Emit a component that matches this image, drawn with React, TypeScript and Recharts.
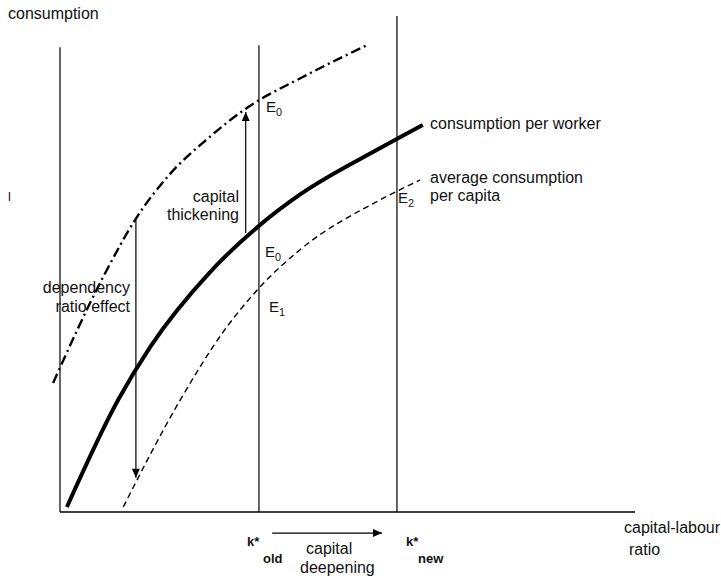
import { ComposedChart, Line, XAxis, YAxis, ReferenceLine } from 'recharts'

// capital-labour ratio (k) and consumption (c)
const workerK = [1.2, 10.1, 15.7, 26.1, 34.6, 41.7, 55.7, 63.1]
const workerC = [1.0, 22.3, 32.9, 47.8, 57.0, 63.2, 72.5, 77.1]

const capitaK = [11.0, 20.9, 28.4, 34.6, 41.7, 55.7, 62.6]
const capitaC = [1.0, 22.3, 35.9, 44.6, 52.2, 62.2, 66.1]

const upperK = [-1.2, 7.5, 13.4, 19.1, 25.6, 32.5, 42.3, 53.4]
const upperC = [25.7, 46.8, 58.8, 67.3, 74.3, 80.5, 86.7, 93.0]

// k* old / k* new and the vertical guides
const kOld = 34.6
const kNew = 58.6
const guideTops = [92.6, 93.0, 98.8]

// arrows: [k, c] start and end
const dependencyArrow = [[13.2, 58.2], [13.2, 6.8]]
const thickeningArrow = [[32.3, 55.6], [32.3, 79.7]]
const deepeningArrow = [[36.9, -4.2], [56.0, -4.2]]

const toRows = (ks: number[], cs: number[]) => ks.map((k, i) => ({ k, c: cs[i] }))
const arrowRows = (pts: number[][]) => pts.map(([k, c]) => ({ k, c }))

const font = "'Liberation Sans', Arial, sans-serif"

function arrowHead(dir: 'up' | 'down' | 'right', last: number) {
  return (props: any) => {
    const { cx, cy, index } = props
    if (index !== last) return <g key={`d${index}`} />
    let pts = ''
    if (dir === 'down') pts = `${cx - 4},${cy - 9} ${cx + 4},${cy - 9} ${cx},${cy}`
    if (dir === 'up') pts = `${cx - 4},${cy + 9} ${cx + 4},${cy + 9} ${cx},${cy}`
    if (dir === 'right') pts = `${cx - 9},${cy - 4} ${cx - 9},${cy + 4} ${cx},${cy}`
    return <polygon key={`d${index}`} points={pts} fill="#000" />
  }
}

function Sub({ x, y, main, sub, size = 16, bold = false }: any) {
  return (
    <text x={x} y={y} fontSize={size} fontWeight={bold ? 'bold' : 'normal'}>
      {main}
      <tspan fontSize={size * 0.72} dy={4}>{sub}</tspan>
    </text>
  )
}

export default function App() {
  return (
    <div style={{ position: 'absolute', left: 0, top: 0, width: 721, height: 578, background: '#fff', fontFamily: font }}>
      <ComposedChart
        width={721}
        height={578}
        margin={{ top: 10, right: 80.25, bottom: 15.8, left: 31.25 }}
      >
        <XAxis type="number" dataKey="k" domain={[-5, 101]} allowDataOverflow hide />
        <YAxis type="number" dataKey="c" domain={[-10, 100]} allowDataOverflow hide />

        {/* axes */}
        <ReferenceLine segment={[{ x: 0, y: 0 }, { x: 100, y: 0 }]} stroke="#000" strokeWidth={1.3} ifOverflow="visible" />
        <ReferenceLine segment={[{ x: 0, y: 0 }, { x: 0, y: guideTops[0] }]} stroke="#000" strokeWidth={1.2} ifOverflow="visible" />
        <ReferenceLine segment={[{ x: kOld, y: 0 }, { x: kOld, y: guideTops[1] }]} stroke="#000" strokeWidth={1.2} ifOverflow="visible" />
        <ReferenceLine segment={[{ x: kNew, y: 0 }, { x: kNew, y: guideTops[2] }]} stroke="#000" strokeWidth={1.2} ifOverflow="visible" />

        <Line data={toRows(upperK, upperC)} dataKey="c" type="monotone" stroke="#000" strokeWidth={2.4}
          strokeDasharray="10 4 2 4" dot={false} activeDot={false} isAnimationActive={false} />
        <Line data={toRows(capitaK, capitaC)} dataKey="c" type="monotone" stroke="#000" strokeWidth={1.4}
          strokeDasharray="6 4" dot={false} activeDot={false} isAnimationActive={false} />
        <Line data={toRows(workerK, workerC)} dataKey="c" type="monotone" stroke="#000" strokeWidth={4}
          dot={false} activeDot={false} isAnimationActive={false} />

        <Line data={arrowRows(dependencyArrow)} dataKey="c" type="linear" stroke="#000" strokeWidth={1.2}
          dot={arrowHead('down', 1)} activeDot={false} isAnimationActive={false} />
        <Line data={arrowRows(thickeningArrow)} dataKey="c" type="linear" stroke="#000" strokeWidth={1.2}
          dot={arrowHead('up', 1)} activeDot={false} isAnimationActive={false} />
        <Line data={arrowRows(deepeningArrow)} dataKey="c" type="linear" stroke="#000" strokeWidth={1.2}
          dot={arrowHead('right', 1)} activeDot={false} isAnimationActive={false} />
      </ComposedChart>

      {/* labels */}
      <svg width={721} height={578} style={{ position: 'absolute', left: 0, top: 0, pointerEvents: 'none' }}
        fontFamily={font} fill="#111">
        <text x={8} y={19} fontSize={16}>consumption</text>
        <text x={8} y={201} fontSize={13}>l</text>

        <text x={430} y={129} fontSize={16}>consumption per worker</text>
        <text x={430} y={183} fontSize={16}>average consumption</text>
        <text x={430} y={201} fontSize={16}>per capita</text>

        <text x={239} y={202} fontSize={16} textAnchor="end">capital</text>
        <text x={239} y={220} fontSize={16} textAnchor="end">thickening</text>

        <text x={130} y={293} fontSize={16} textAnchor="end">dependency</text>
        <text x={130} y={312} fontSize={16} textAnchor="end">ratio effect</text>

        <Sub x={266} y={112} main="E" sub="0" size={15} />
        <Sub x={265} y={257} main="E" sub="0" size={15} />
        <Sub x={269} y={312} main="E" sub="1" size={15} />
        <Sub x={398} y={203} main="E" sub="2" size={15} />

        <text x={247} y={546} fontSize={13} fontWeight="bold">k*</text>
        <text x={263} y={563} fontSize={13} fontWeight="bold">old</text>
        <text x={406} y={546} fontSize={13} fontWeight="bold">k*</text>
        <text x={418} y={563} fontSize={13} fontWeight="bold">new</text>

        <text x={306} y={554} fontSize={16}>capital</text>
        <text x={300} y={573} fontSize={16}>deepening</text>

        <text x={624} y={533} fontSize={16}>capital-labour</text>
        <text x={629} y={555} fontSize={16}>ratio</text>
      </svg>
    </div>
  )
}
